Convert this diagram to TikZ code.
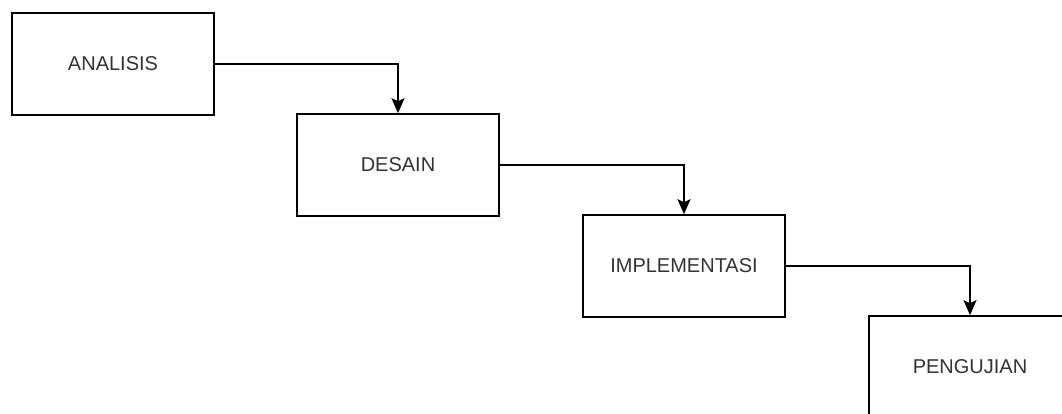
\documentclass[tikz,border=0pt]{standalone}
\usepackage{fontspec}
\setmainfont{Liberation Sans}
\usetikzlibrary{arrows.meta}
\begin{document}
\begin{tikzpicture}[x=1pt,y=-1pt,
  stagebox/.style={draw=black, line width=1.6pt, fill=white, minimum width=202pt, minimum height=102pt, inner sep=0pt, font=\fontsize{20}{24}\selectfont, text=black!80},
  flow/.style={draw=black, line width=1.6pt, -{Stealth[length=15pt,width=13pt,inset=3pt]}}]
\useasboundingbox (0,0) rectangle (1062,414);
\clip (0,0) rectangle (1062,414);
\fill[white] (0,0) rectangle (1062,414);
\node[stagebox] (analisis) at (113,64) {ANALISIS};
\node[stagebox] (desain) at (398,165) {DESAIN};
\node[stagebox] (impl) at (684,266) {IMPLEMENTASI};
\node[stagebox] (uji) at (970,367) {PENGUJIAN};
\draw[flow] (analisis.east) -| (desain.north);
\draw[flow] (desain.east) -| (impl.north);
\draw[flow] (impl.east) -| (uji.north);
\end{tikzpicture}
\end{document}
